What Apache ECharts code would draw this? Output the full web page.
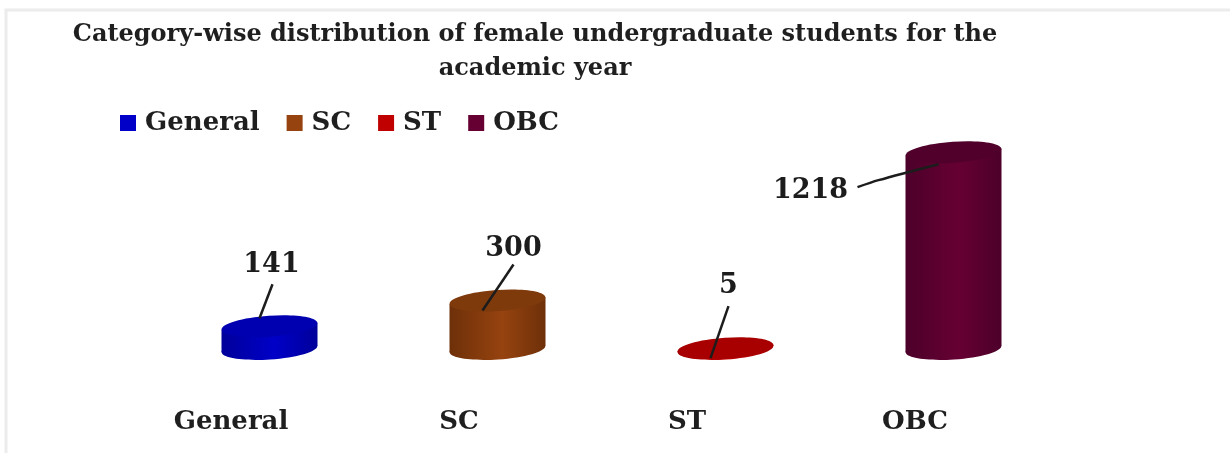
<!DOCTYPE html>
<html><head><meta charset="utf-8">
<style>html,body{margin:0;padding:0;background:#fff}#c{width:1230px;height:453px}</style>
<script src="https://cdn.jsdelivr.net/npm/echarts@6/dist/echarts.min.js"></script>
</head><body><div id="c"></div>
<script>
const categories = ['General', 'SC', 'ST', 'OBC'];
const values = [141, 300, 5, 1218];
const colors = ['#0000c8', '#96430f', '#c00000', '#660033'];
const edgeColors = ['#00009a', '#6e3009', '#a00000', '#4c002a'];
const topColors = ['#0000b0', '#7f3a0c', '#a80000', '#50002a'];
const fontFamily = '"DejaVu Serif",serif';
const chart = echarts.init(document.getElementById('c'));

const SHIFT = 38.5, RX = 48, RY = 10.5, TILT = 0.07;
const labelGeometry = [
  { tx: 2, ty: -61, line: [[3, -42], [-10, -8]] },
  { tx: 16, ty: -52, line: [[16, -36], [-15, 10]] },
  { tx: 3, ty: -62, line: [[3, -42], [-15, 10]] },
  { tx: -143, ty: 39, line: [[-96, 35], [-75, 28], [-15, 12]] }
];

function renderCylinder(i) {
  return function (params, api) {
    const base = api.coord([i, 0]);
    const top = api.coord([i, api.value(1)]);
    const cx = base[0] + SHIFT;
    const by = base[1], ty = top[1];
    const dy = RX * Math.sin(TILT);
    const side = new echarts.graphic.LinearGradient(0, 0, 1, 0, [
      { offset: 0, color: edgeColors[i] },
      { offset: 0.55, color: colors[i] },
      { offset: 1, color: edgeColors[i] }
    ]);
    const g = labelGeometry[i];
    const lineStyle = { stroke: '#1c1c1c', lineWidth: 2.5, fill: null };
    return {
      type: 'group',
      children: [
        { type: 'ellipse', x: cx, y: by, rotation: TILT, shape: { cx: 0, cy: 0, rx: RX, ry: RY }, style: { fill: side } },
        { type: 'polygon', shape: { points: [[cx - RX, ty + dy], [cx + RX, ty - dy], [cx + RX, by - dy], [cx - RX, by + dy]] }, style: { fill: side } },
        { type: 'ellipse', x: cx, y: ty, rotation: TILT, shape: { cx: 0, cy: 0, rx: RX, ry: RY }, style: { fill: topColors[i] } },
        { type: 'polyline', shape: { points: g.line.map(p => [cx + p[0], ty + p[1]]), smooth: g.line.length > 2 ? 0.3 : 0 }, style: lineStyle },
        { type: 'text', x: cx + g.tx, y: ty + g.ty, style: { text: String(api.value(1)), font: 'bold 27px ' + fontFamily, fill: '#1c1c1c', textAlign: 'center', textVerticalAlign: 'middle' } }
      ]
    };
  };
}

chart.setOption({
  animation: false,
  backgroundColor: '#ffffff',
  title: {
    text: 'Category-wise distribution of female undergraduate students for the\nacademic year',
    left: 530, top: 13, textAlign: 'center',
    textStyle: { fontFamily, fontWeight: 'bold', fontSize: 24, lineHeight: 34, color: '#1f1f1f' }
  },
  legend: {
    left: 115, top: 105, itemWidth: 16, itemHeight: 16, itemGap: 27, icon: 'rect',
    data: categories,
    textStyle: { fontFamily, fontWeight: 'bold', fontSize: 26, color: '#1f1f1f', padding: [0, 0, 0, 4] }
  },
  grid: { left: 117, width: 912, top: 147, height: 202 },
  xAxis: {
    type: 'category', data: categories,
    axisLine: { show: false }, axisTick: { show: false },
    axisLabel: { margin: 60, fontFamily, fontWeight: 'bold', fontSize: 26, color: '#1f1f1f' }
  },
  yAxis: { type: 'value', min: 0, max: 1250, show: false, splitLine: { show: false } },
  graphic: [{
    type: 'polyline', silent: true, z: -1,
    shape: { points: [[6, 453], [6, 10], [1230, 10]] },
    style: { stroke: '#ececec', lineWidth: 3, fill: null }
  }],
  series: categories.map((name, i) => ({
    name, type: 'custom', coordinateSystem: 'cartesian2d',
    itemStyle: { color: colors[i] },
    encode: { x: 0, y: 1 },
    clip: false,
    renderItem: renderCylinder(i),
    data: [[i, values[i]]]
  }))
});
</script></body></html>
